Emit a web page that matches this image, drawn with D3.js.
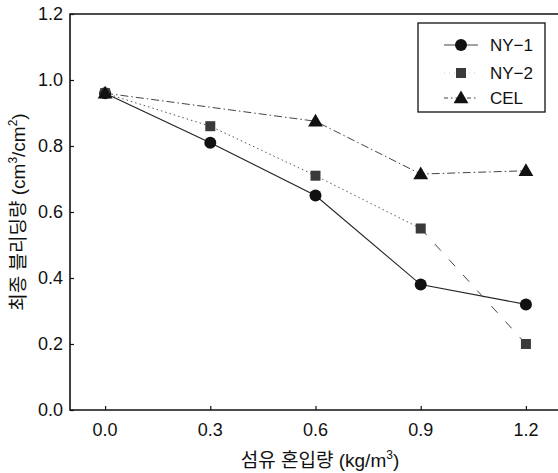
<!DOCTYPE html>
<html>
<head>
<meta charset="utf-8">
<script src="https://cdn.jsdelivr.net/npm/d3@7"></script>
<style>
  body { margin: 0; background: #fff; }
  text { font-family: "Liberation Sans", Arial, "Noto Sans CJK KR", sans-serif; fill: #111; }
</style>
</head>
<body>
<svg id="chart" width="558" height="473"></svg>
<script>
var xValues = [0.0, 0.3, 0.6, 0.9, 1.2];
var ny1 = [0.96, 0.81, 0.65, 0.38, 0.32];
var ny2 = [0.96, 0.86, 0.71, 0.55, 0.20];
var celX = [0.0, 0.6, 0.9, 1.2];
var cel = [0.96, 0.875, 0.715, 0.725];
var xTicks = [0.0, 0.3, 0.6, 0.9, 1.2];
var yTicks = [0.0, 0.2, 0.4, 0.6, 0.8, 1.0, 1.2];
var legendNames = ["NY\u22121", "NY\u22122", "CEL"];

(function() {
    var mLeft = 70, mBottom = 410, mTop = 14, mRight = 561;

    var x = d3.scaleLinear().domain([-0.1, 1.3]).range([mLeft, mRight]);
    var y = d3.scaleLinear().domain([0, 1.2]).range([mBottom, mTop]);

    var svg = d3.select("#chart");

    // frame: left, bottom, top (no right border)
    svg.append("path")
        .attr("d", "M558," + mTop + "H" + mLeft + "V" + mBottom + "H558")
        .attr("fill", "none").attr("stroke", "#111").attr("stroke-width", 1.6);

    // inward ticks
    svg.append("g").attr("transform", "translate(0," + mBottom + ")")
        .call(d3.axisTop(x).tickValues(xTicks).tickSize(4).tickFormat(""))
        .call(function(g) { g.select(".domain").remove(); })
        .selectAll("line").attr("stroke", "#111").attr("stroke-width", 1.2);

    svg.append("g").attr("transform", "translate(" + mLeft + ",0)")
        .call(d3.axisRight(y).tickValues(yTicks).tickSize(4).tickFormat(""))
        .call(function(g) { g.select(".domain").remove(); })
        .selectAll("line").attr("stroke", "#111").attr("stroke-width", 1.2);

    // tick labels
    svg.selectAll(".xl").data(xTicks).enter().append("text")
        .attr("x", function(d) { return x(d); })
        .attr("y", 436)
        .attr("text-anchor", "middle")
        .style("font-size", "18px")
        .text(function(d) { return d.toFixed(1); });

    svg.selectAll(".yl").data(yTicks).enter().append("text")
        .attr("x", 63)
        .attr("y", function(d) { return y(d); })
        .attr("dy", "0.36em")
        .attr("text-anchor", "end")
        .style("font-size", "18px")
        .text(function(d) { return d.toFixed(1); });

    // axis titles
    var xt = svg.append("text").attr("x", 320).attr("y", 467)
        .attr("text-anchor", "middle").style("font-size", "19px");
    xt.append("tspan").text("섬유 혼입량 (kg/m");
    xt.append("tspan").attr("dy", -8).style("font-size", "12px").text("3");
    xt.append("tspan").attr("dy", 8).text(")");

    var yt = svg.append("text")
        .attr("transform", "translate(25,212) rotate(-90)")
        .attr("text-anchor", "middle").style("font-size", "19px");
    yt.append("tspan").text("최종 블리딩량 (cm");
    yt.append("tspan").attr("dy", -8).style("font-size", "12px").text("3");
    yt.append("tspan").attr("dy", 8).text("/cm");
    yt.append("tspan").attr("dy", -8).style("font-size", "12px").text("2");
    yt.append("tspan").attr("dy", 8).text(")");

    // lines
    var line = d3.line().x(function(d) { return x(d[0]); }).y(function(d) { return y(d[1]); });
    var s1 = d3.zip(xValues, ny1), s2 = d3.zip(xValues, ny2), s3 = d3.zip(celX, cel);

    svg.append("path").datum(s1).attr("d", line)
        .attr("fill", "none").attr("stroke", "#222").attr("stroke-width", 1.1);
    svg.append("path").datum(s2.slice(0, 4)).attr("d", line)
        .attr("fill", "none").attr("stroke", "#555").attr("stroke-width", 1)
        .attr("stroke-dasharray", "1.5,3");
    svg.append("path").datum(s2.slice(3)).attr("d", line)
        .attr("fill", "none").attr("stroke", "#444").attr("stroke-width", 1)
        .attr("stroke-dasharray", "9,12");
    svg.append("path").datum(s3).attr("d", line)
        .attr("fill", "none").attr("stroke", "#444").attr("stroke-width", 1)
        .attr("stroke-dasharray", "8,3,1.5,3");

    // markers
    var tri = d3.symbol().type(d3.symbolTriangle).size(95);
    svg.selectAll(".c1").data(s1).enter().append("circle")
        .attr("cx", function(d) { return x(d[0]); })
        .attr("cy", function(d) { return y(d[1]); })
        .attr("r", 6).attr("fill", "#111");
    svg.selectAll(".s2").data(s2).enter().append("rect")
        .attr("x", function(d) { return x(d[0]) - 5; })
        .attr("y", function(d) { return y(d[1]) - 5; })
        .attr("width", 10).attr("height", 10).attr("fill", "#3a3a3a");
    svg.selectAll(".t3").data(s3).enter().append("path")
        .attr("d", tri)
        .attr("transform", function(d) { return "translate(" + x(d[0]) + "," + (y(d[1]) + 1) + ")"; })
        .attr("fill", "#111");

    // legend
    var lg = svg.append("g");
    lg.append("rect").attr("x", 418).attr("y", 23).attr("width", 127).attr("height", 89)
        .attr("fill", "#fff").attr("stroke", "#111").attr("stroke-width", 1.3);
    var legendY = [45, 73, 98];
    var dashes = [null, "1,4", "4,3,1.5,3"];
    legendNames.forEach(function(name, i) {
        var ly = legendY[i];
        lg.append("line").attr("x1", 444).attr("x2", 478).attr("y1", ly).attr("y2", ly)
            .attr("stroke", i === 1 ? "#ccc" : "#444").attr("stroke-width", 1)
            .attr("stroke-dasharray", dashes[i]);
        if (i === 0) lg.append("circle").attr("cx", 461).attr("cy", ly).attr("r", 6).attr("fill", "#111");
        if (i === 1) lg.append("rect").attr("x", 456).attr("y", ly - 5).attr("width", 10).attr("height", 10).attr("fill", "#3a3a3a");
        if (i === 2) lg.append("path").attr("d", tri).attr("transform", "translate(461," + (ly + 1) + ")").attr("fill", "#111");
        lg.append("text").attr("x", 490).attr("y", ly).attr("dy", "0.36em")
            .style("font-size", "17px").text(name);
    });
})();
</script>
</body>
</html>
